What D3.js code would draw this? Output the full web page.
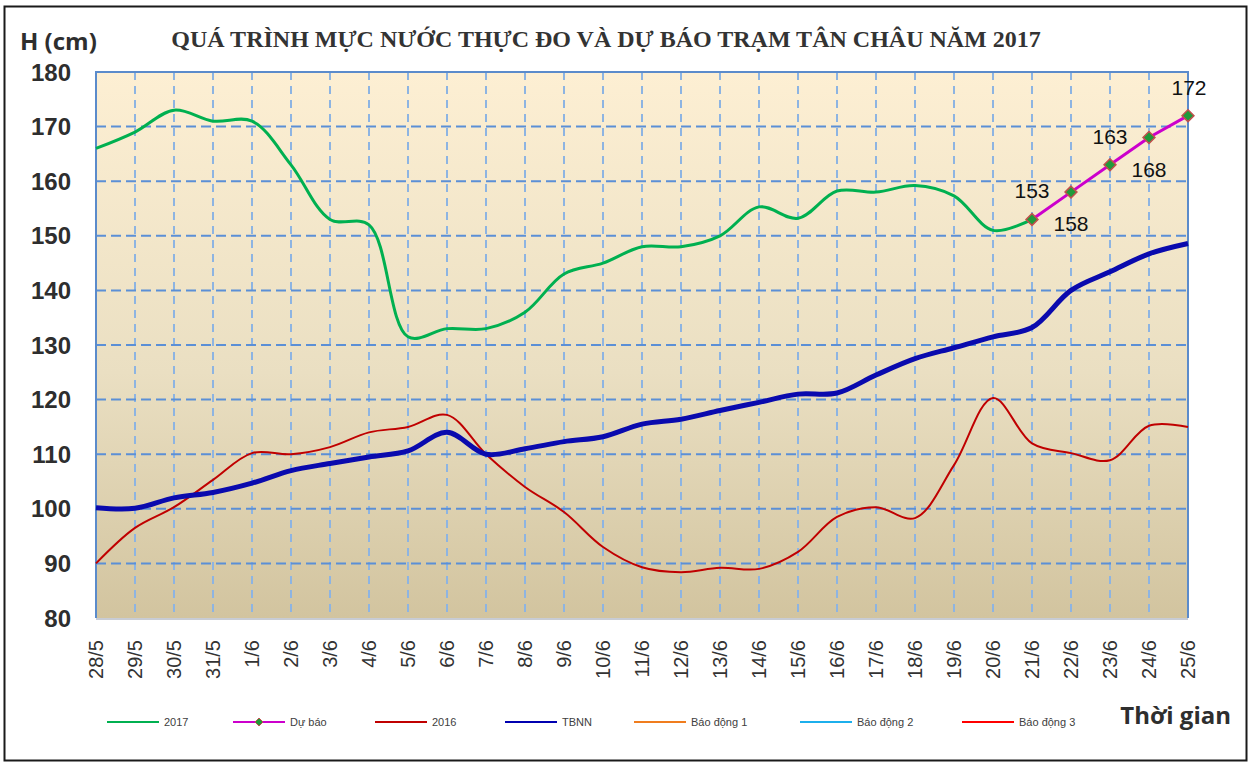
<!DOCTYPE html>
<html>
<head>
<meta charset="utf-8">
<script src="https://cdn.jsdelivr.net/npm/d3@7"></script>
<style>
  body { margin: 0; background: #fff; }
  svg { display: block; }
</style>
</head>
<body>
<svg width="1251" height="765"></svg>
<script>
// dates on the x axis
const dates = ["28/5","29/5","30/5","31/5","1/6","2/6","3/6","4/6","5/6","6/6","7/6","8/6","9/6","10/6",
  "11/6","12/6","13/6","14/6","15/6","16/6","17/6","18/6","19/6","20/6","21/6","22/6","23/6","24/6","25/6"];

// observed 2017 (ends at 21/6)
const h2017 = [166,169,173,171,171,163,153,152,131.5,133,133,136,143,145,148,148,150,155.3,153.2,158.2,158,159.2,157.3,151,153];
// forecast from 21/6 to 25/6
const forecastDates = ["21/6","22/6","23/6","24/6","25/6"];
const forecast = [153,158,163,168,172];
// 2016
const h2016 = [90,96.5,100.3,105.3,110.2,110,111.3,114,115,117.2,110,104,99.4,93,89.3,88.4,89.2,89,92.1,98.5,100.3,98.3,108,120.3,112,110.2,108.9,115.2,115];
// long-term mean
const tbnn = [100.2,100.1,102,103,104.7,107,108.3,109.5,110.6,114,110,111,112.3,113.2,115.5,116.4,118,119.5,121,121.2,124.5,127.5,129.5,131.5,133.2,140,143.4,146.7,148.6];

const yTicks = [80,90,100,110,120,130,140,150,160,170,180];

const legendItems = [
  { label: "2017", color: "#00B050", marker: false },
  { label: "Dự báo", color: "#CC00CC", marker: true },
  { label: "2016", color: "#C00000", marker: false },
  { label: "TBNN", color: "#0000B0", marker: false },
  { label: "Báo động 1", color: "#F07D1E", marker: false },
  { label: "Báo động 2", color: "#1CAFEC", marker: false },
  { label: "Báo động 3", color: "#FF0000", marker: false }
];

const svg = d3.select("svg");

// outer frame
svg.append("rect")
  .attr("x", 4.5).attr("y", 6.5)
  .attr("width", 1242).attr("height", 754)
  .attr("fill", "#fff")
  .attr("stroke", "#1a1a1a")
  .attr("stroke-width", 2);

const plotL = 96, plotR = 1188, plotT = 72, plotB = 618;

const x = d3.scalePoint().domain(dates).range([plotL, plotR]);
const y = d3.scaleLinear().domain([80, 180]).range([plotB, plotT]);

// background gradient
const defs = svg.append("defs");
const grad = defs.append("linearGradient")
  .attr("id", "bg").attr("x1", 0).attr("y1", 0).attr("x2", 0).attr("y2", 1);
grad.append("stop").attr("offset", "0%").attr("stop-color", "#FDEFD3");
grad.append("stop").attr("offset", "55%").attr("stop-color", "#EADFC2");
grad.append("stop").attr("offset", "100%").attr("stop-color", "#D2C49F");

svg.append("rect")
  .attr("x", plotL).attr("y", plotT)
  .attr("width", plotR - plotL).attr("height", plotB - plotT)
  .attr("fill", "url(#bg)");

// vertical dashed grid
svg.append("g")
  .selectAll("line")
  .data(dates.slice(1, -1))
  .join("line")
  .attr("x1", d => x(d)).attr("x2", d => x(d))
  .attr("y1", plotT).attr("y2", plotB)
  .attr("stroke", "#8DB4E2")
  .attr("stroke-width", 2)
  .attr("stroke-dasharray", "8,6");

// horizontal dashed grid
svg.append("g")
  .selectAll("line")
  .data(yTicks.slice(1, -1))
  .join("line")
  .attr("x1", plotL).attr("x2", plotR)
  .attr("y1", d => y(d)).attr("y2", d => y(d))
  .attr("stroke", "#5B8FD6")
  .attr("stroke-width", 2)
  .attr("stroke-dasharray", "10,5");

// plot border
svg.append("path")
  .attr("d", `M${plotL},${plotB}V${plotT}H${plotR}V${plotB}`)
  .attr("fill", "none")
  .attr("stroke", "#5B8BCB")
  .attr("stroke-width", 2);
svg.append("line")
  .attr("x1", plotL).attr("x2", plotR)
  .attr("y1", plotB + 1).attr("y2", plotB + 1)
  .attr("stroke", "#C8CCD4")
  .attr("stroke-width", 2);

// y axis labels
svg.append("g")
  .selectAll("text")
  .data(yTicks)
  .join("text")
  .attr("x", 71)
  .attr("y", d => y(d))
  .attr("dy", "0.36em")
  .attr("text-anchor", "end")
  .attr("font-family", "Liberation Sans, Arial, sans-serif")
  .attr("font-weight", "bold")
  .attr("font-size", "24px")
  .attr("fill", "#2e2e2e")
  .text(d => d);

// x axis labels, rotated
svg.append("g")
  .selectAll("text")
  .data(dates)
  .join("text")
  .attr("transform", d => `translate(${x(d)}, 640) rotate(-90)`)
  .attr("dy", "0.36em")
  .attr("text-anchor", "end")
  .attr("font-family", "Liberation Sans, Arial, sans-serif")
  .attr("font-size", "20px")
  .attr("fill", "#333")
  .text(d => d);

const smooth = d3.line().curve(d3.curveCatmullRom.alpha(0.5));

// 2016 line
svg.append("path")
  .attr("d", smooth(h2016.map((v, i) => [x(dates[i]), y(v)])))
  .attr("fill", "none")
  .attr("stroke", "#C00000")
  .attr("stroke-width", 2);

// TBNN line
svg.append("path")
  .attr("d", smooth(tbnn.map((v, i) => [x(dates[i]), y(v)])))
  .attr("fill", "none")
  .attr("stroke", "#0A0AAE")
  .attr("stroke-width", 5);

// 2017 line
svg.append("path")
  .attr("d", smooth(h2017.map((v, i) => [x(dates[i]), y(v)])))
  .attr("fill", "none")
  .attr("stroke", "#00B050")
  .attr("stroke-width", 3);

// forecast line + markers
const fPts = forecast.map((v, i) => [x(forecastDates[i]), y(v)]);
svg.append("path")
  .attr("d", d3.line()(fPts))
  .attr("fill", "none")
  .attr("stroke", "#CC00CC")
  .attr("stroke-width", 3);

const diamond = d3.symbol().type(d3.symbolDiamond2).size(90);
svg.append("g")
  .selectAll("path")
  .data(fPts)
  .join("path")
  .attr("transform", d => `translate(${d[0]},${d[1]})`)
  .attr("d", diamond)
  .attr("fill", "#1F9A3A")
  .attr("stroke", "#C0504D")
  .attr("stroke-width", 1.5);

// forecast value labels, alternating above / below
svg.append("g")
  .selectAll("text")
  .data(forecast)
  .join("text")
  .attr("x", (d, i) => fPts[i][0] + (i === 4 ? 1 : 0))
  .attr("y", (d, i) => fPts[i][1] + (i % 2 === 0 ? -21 : 39))
  .attr("text-anchor", "middle")
  .attr("font-family", "Liberation Sans, Arial, sans-serif")
  .attr("font-size", "21px")
  .attr("fill", "#111")
  .text(d => d);

// title and axis names
svg.append("text")
  .attr("x", 606).attr("y", 47)
  .attr("text-anchor", "middle")
  .attr("font-family", "Liberation Serif, Times New Roman, serif")
  .attr("font-weight", "bold")
  .attr("font-size", "24px")
  .attr("fill", "#333")
  .text("QUÁ TRÌNH MỰC NƯỚC THỰC ĐO VÀ DỰ BÁO TRẠM TÂN CHÂU NĂM 2017");

svg.append("text")
  .attr("x", 20).attr("y", 50)
  .attr("font-family", "Open Sans, sans-serif")
  .attr("font-weight", "bold")
  .attr("font-size", "24px")
  .attr("fill", "#2e2e2e")
  .text("H (cm)");

svg.append("text")
  .attr("x", 1231).attr("y", 724)
  .attr("text-anchor", "end")
  .attr("font-family", "Open Sans, sans-serif")
  .attr("font-weight", "bold")
  .attr("font-size", "24px")
  .attr("fill", "#2e2e2e")
  .text("Thời gian");

// legend
const legendX = [107, 233, 375, 505, 634, 800, 962];
const legend = svg.append("g").attr("transform", "translate(0, 722)");
const li = legend.selectAll("g")
  .data(legendItems)
  .join("g")
  .attr("transform", (d, i) => `translate(${legendX[i]}, 0)`);

li.append("line")
  .attr("x1", 0).attr("x2", 52)
  .attr("stroke", d => d.color)
  .attr("stroke-width", 2);

li.filter(d => d.marker)
  .append("path")
  .attr("transform", "translate(26,0)")
  .attr("d", d3.symbol().type(d3.symbolDiamond2).size(40))
  .attr("fill", "#1F9A3A")
  .attr("stroke", "#C0504D")
  .attr("stroke-width", 1);

li.append("text")
  .attr("x", 57)
  .attr("dy", "0.35em")
  .attr("font-family", "Liberation Sans, Arial, sans-serif")
  .attr("font-size", "11px")
  .attr("fill", "#404040")
  .text(d => d.label);
</script>
</body>
</html>
